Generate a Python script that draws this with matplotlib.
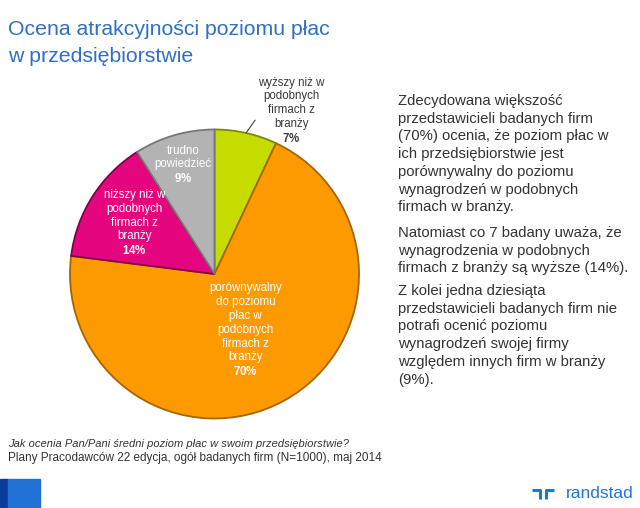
import matplotlib
matplotlib.use("Agg")
import matplotlib.pyplot as plt
import numpy as np

plt.rcParams['font.family'] = ['Liberation Sans', 'DejaVu Sans']
plt.rcParams['mathtext.fontset'] = 'custom'
plt.rcParams['mathtext.bf'] = 'Liberation Sans:bold'
plt.rcParams['mathtext.rm'] = 'Liberation Sans'

# data
labels = ["wyższy niż w\npodobnych\nfirmach z\nbranży",
          "porównywalny\ndo poziomu\npłac w\npodobnych\nfirmach z\nbranży",
          "niższy niż w\npodobnych\nfirmach z\nbranży",
          "trudno\npowiedzieć"]
values = [7, 70, 14, 9]
colors = ["#c6dc00", "#fd9a00", "#e4057f", "#b3b3b3"]
edges = ["#7d8a00", "#a86400", "#80004a", "#777777"]
label_dist = [None, 0.445, 0.655, 0.785]
text_colors = ["#3a3a3a", "white", "white", "white"]

title = "Ocena atrakcyjności poziomu płac\nw przedsiębiorstwie"
paragraphs = [
    "Zdecydowana większość\nprzedstawicieli badanych firm\n(70%) ocenia, że poziom płac w\nich przedsiębiorstwie jest\nporównywalny do poziomu\nwynagrodzeń w podobnych\nfirmach w branży.",
    "Natomiast co 7 badany uważa, że\nwynagrodzenia w podobnych\nfirmach z branży są wyższe (14%).",
    "Z kolei jedna dziesiąta\nprzedstawicieli badanych firm nie\npotrafi ocenić poziomu\nwynagrodzeń swojej firmy\nwzględem innych firm w branży\n(9%).",
]
question = "Jak ocenia Pan/Pani średni poziom płac w swoim przedsiębiorstwie?"
source = "Plany Pracodawców 22 edycja, ogół badanych firm (N=1000), maj 2014"

W, H = 640, 508
fig = plt.figure(figsize=(6.4, 5.08), dpi=100)

# title
fig.text(8 / W, 1 - 20 / H, title, fontsize=15.3, color="#2f6fc4",
         va="top", ha="left", linespacing=1.55)

# pie
cx, cy, r = 214.5, 274, 144.5
ax = fig.add_axes([(cx - r) / W, (H - cy - r) / H, 2 * r / W, 2 * r / H])
wedges, _ = ax.pie(values, colors=colors, startangle=90, counterclock=False,
                   radius=1, wedgeprops=dict(linewidth=1.3))
for w, ec in zip(wedges, edges):
    w.set_edgecolor(ec)
ax.set_xlim(-1.0, 1.0)
ax.set_ylim(-1.0, 1.0)
ax.set_aspect("equal")
ax.axis("off")

for i, w in enumerate(wedges):
    mid = np.deg2rad((w.theta1 + w.theta2) / 2)
    txt = labels[i] + "\n" + r"$\mathbf{" + str(values[i]) + r"\%}$"
    if label_dist[i] is None:
        ax.annotate(txt, xy=(np.cos(mid), np.sin(mid)),
                    xytext=(0.53, 1.13), textcoords="data",
                    ha="center", va="center", fontsize=8.3,
                    color=text_colors[i], linespacing=1.2,
                    annotation_clip=False,
                    arrowprops=dict(arrowstyle="-", color="#444444", lw=0.8,
                                    relpos=(0.0, 0.42), shrinkA=0, shrinkB=0))
    else:
        d = label_dist[i]
        ax.text(d * np.cos(mid), d * np.sin(mid), txt, ha="center",
                va="center", fontsize=8.3, color=text_colors[i],
                linespacing=1.2)

# right-hand commentary
tops = [94, 226, 284]
for top, p in zip(tops, paragraphs):
    fig.text(398 / W, 1 - top / H, p, fontsize=10.7, color="#333333",
             va="top", ha="left", linespacing=1.34)

# footer
fig.text(8 / W, 1 - 444 / H, question, fontsize=8.0, style="italic",
         color="#333333", va="center", ha="left")
fig.text(8 / W, 1 - 458 / H, source, fontsize=8.5,
         color="#333333", va="center", ha="left")

# blue corner blocks
fig.patches.append(plt.Rectangle((0, 0), 8 / W, 29 / H, transform=fig.transFigure,
                                 color="#0b3c9c", zorder=0))
fig.patches.append(plt.Rectangle((8 / W, 0), 32 / W, 29 / H, transform=fig.transFigure,
                                 color="#2171d6", zorder=0))

# randstad logo
fig.text(566 / W, 1 - 493 / H, "randstad", fontsize=12.5, color="#2175d9",
         va="center", ha="left")
logo = fig.add_axes([530 / W, 1 - 500 / H, 30 / W, 14 / H])
logo.plot([0, 4, 4], [10, 10, 0], color="#2175d9", lw=2.2, solid_capstyle="butt")
logo.plot([7, 7, 11], [0, 10, 10], color="#2175d9", lw=2.2, solid_capstyle="butt")
logo.set_xlim(-1, 14)
logo.set_ylim(-1, 14)
logo.axis("off")

fig.savefig("out.png", dpi=100)
